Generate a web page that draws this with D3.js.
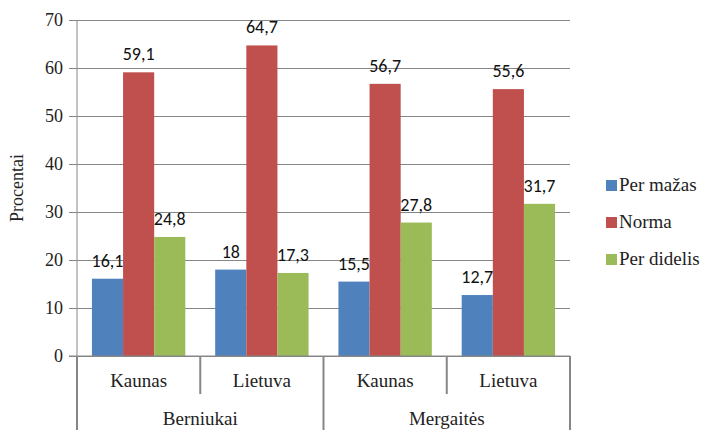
<!DOCTYPE html>
<html>
<head>
<meta charset="utf-8">
<script src="https://cdn.jsdelivr.net/npm/d3@7"></script>
<style>
  body { margin: 0; background: #fff; }
</style>
</head>
<body>
<div id="vis"></div>
<script>
// data
const groups = ["Berniukai", "Mergaitės"];
const places = ["Kaunas", "Lietuva", "Kaunas", "Lietuva"];
const series = ["Per mažas", "Norma", "Per didelis"];
const perMazas = [16.1, 18, 15.5, 12.7];
const norma = [59.1, 64.7, 56.7, 55.6];
const perDidelis = [24.8, 17.3, 27.8, 31.7];
const yTicks = [0, 10, 20, 30, 40, 50, 60, 70];
const colors = ["#4F81BD", "#C0504D", "#9BBB59"];

const FRAME_WIDTH = 706;
const FRAME_HEIGHT = 430;
const MARGINS = {left: 77, right: 136, top: 20, bottom: 74};
const VIS_WIDTH = FRAME_WIDTH - MARGINS.left - MARGINS.right;
const VIS_HEIGHT = FRAME_HEIGHT - MARGINS.top - MARGINS.bottom;
const AXIS = "#868686";
const SERIF = "'Liberation Serif', 'DejaVu Serif', serif";

const svg = d3.select("#vis").append("svg")
  .attr("width", FRAME_WIDTH)
  .attr("height", FRAME_HEIGHT);

const g = svg.append("g")
  .attr("transform", "translate(" + MARGINS.left + "," + MARGINS.top + ")");

const X = d3.scaleBand().domain(d3.range(places.length)).range([0, VIS_WIDTH]).paddingInner(0).paddingOuter(0);
const X_INNER = d3.scaleBand().domain(series).range([0, X.bandwidth()]).paddingInner(0).paddingOuter(0.48);
const Y = d3.scaleLinear().domain([0, 70]).range([VIS_HEIGHT, 0]);

// gridlines + y axis
const yAxis = g.append("g")
  .call(d3.axisLeft(Y).tickValues(yTicks).tickSize(-VIS_WIDTH).tickPadding(14));
yAxis.select(".domain").remove();
yAxis.selectAll(".tick line").attr("stroke", AXIS).attr("x1", -8);
yAxis.selectAll(".tick text")
  .style("font-family", SERIF)
  .style("font-size", "18px")
  .attr("fill", "#222");
g.append("line").attr("x1", 0).attr("x2", 0).attr("y1", 0).attr("y2", VIS_HEIGHT)
  .attr("stroke", AXIS);

// bars
const rows = places.map((p, i) => ({i: i, vals: [perMazas[i], norma[i], perDidelis[i]]}));
const cat = g.selectAll(".cat").data(rows).enter().append("g")
  .attr("transform", d => "translate(" + X(d.i) + ",0)");

cat.selectAll("rect").data(d => d.vals.map((v, k) => ({k: k, v: v}))).enter().append("rect")
  .attr("x", d => X_INNER(series[d.k]))
  .attr("y", d => Y(d.v))
  .attr("width", X_INNER.bandwidth())
  .attr("height", d => VIS_HEIGHT - Y(d.v))
  .attr("fill", d => colors[d.k]);

cat.selectAll("text.val").data(d => d.vals.map((v, k) => ({k: k, v: v}))).enter().append("text")
  .attr("class", "val")
  .attr("x", d => X_INNER(series[d.k]) + X_INNER.bandwidth() / 2)
  .attr("y", d => Y(d.v) - 12)
  .attr("text-anchor", "middle")
  .style("font-family", "Carlito, 'Open Sans', sans-serif")
  .style("font-size", "18px")
  .attr("fill", "#111")
  .text(d => String(d.v).replace(".", ","));

// x axis baseline
g.append("line").attr("x1", -8).attr("x2", VIS_WIDTH).attr("y1", VIS_HEIGHT).attr("y2", VIS_HEIGHT)
  .attr("stroke", AXIS);

// category separators
d3.range(places.length + 1).forEach(i => {
  const x = i < places.length ? X(i) : VIS_WIDTH;
  const full = i % 2 === 0;
  g.append("line").attr("x1", x).attr("x2", x)
    .attr("y1", VIS_HEIGHT).attr("y2", full ? FRAME_HEIGHT - MARGINS.top : VIS_HEIGHT + 38)
    .attr("stroke", AXIS).attr("stroke-width", 2);
});

g.selectAll(".place").data(places).enter().append("text")
  .attr("x", (d, i) => X(i) + X.bandwidth() / 2)
  .attr("y", VIS_HEIGHT + 31)
  .attr("text-anchor", "middle")
  .style("font-family", SERIF)
  .style("font-size", "19px")
  .attr("fill", "#222")
  .text(d => d);

g.selectAll(".grp").data(groups).enter().append("text")
  .attr("x", (d, i) => X(i * 2) + X.bandwidth())
  .attr("y", VIS_HEIGHT + 69)
  .attr("text-anchor", "middle")
  .style("font-family", SERIF)
  .style("font-size", "19px")
  .attr("fill", "#222")
  .text(d => d);

// y title
svg.append("text")
  .attr("transform", "translate(23," + (MARGINS.top + VIS_HEIGHT / 2) + ") rotate(-90)")
  .attr("text-anchor", "middle")
  .style("font-family", SERIF)
  .style("font-size", "18px")
  .attr("fill", "#222")
  .text("Procentai");

// legend
const legend = svg.append("g").attr("transform", "translate(606,180)");
series.forEach((s, k) => {
  const row = legend.append("g").attr("transform", "translate(0," + (k * 37) + ")");
  row.append("rect").attr("width", 11).attr("height", 11).attr("fill", colors[k]);
  row.append("text").attr("x", 13).attr("y", 11)
    .style("font-family", SERIF)
    .style("font-size", "19px")
    .attr("fill", "#222")
    .text(s);
});
</script>
</body>
</html>
